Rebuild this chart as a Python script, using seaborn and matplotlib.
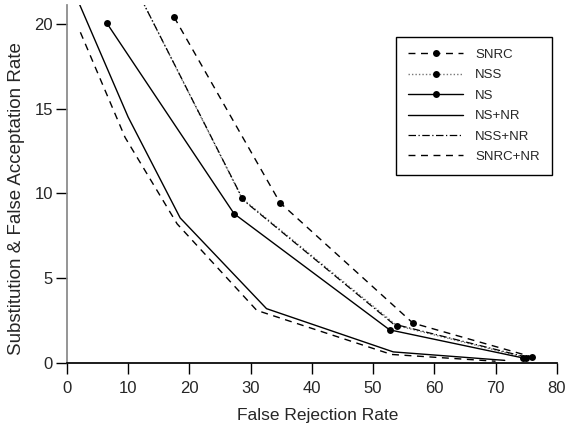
import matplotlib
matplotlib.use("Agg")
import matplotlib.pyplot as plt
import seaborn as sns
import pandas as pd

# curves (false rejection %, substitution & false acceptation %)
snrc_x = [17.5, 34.8, 56.5, 76.0]
snrc_y = [20.4, 9.45, 2.35, 0.35]
nss_x = [10.7, 28.6, 53.9, 75.0]
nss_y = [22.5, 9.7, 2.2, 0.3]
ns_x = [6.5, 27.3, 52.7, 74.4]
ns_y = [20.05, 8.8, 1.95, 0.3]
ns_nr_x = [2.0, 10.0, 18.5, 32.6, 53.3, 71.5]
ns_nr_y = [21.2, 14.5, 8.55, 3.2, 0.65, 0.15]
nss_nr_x = [10.7, 28.8, 53.3, 75.5]
nss_nr_y = [22.5, 9.6, 2.3, 0.3]
snrc_nr_x = [2.2, 9.5, 18.0, 31.0, 53.0, 70.0]
snrc_nr_y = [19.5, 13.3, 8.2, 3.1, 0.5, 0.1]

series = {
    "SNRC": (snrc_x, snrc_y),
    "NSS": (nss_x, nss_y),
    "NS": (ns_x, ns_y),
    "NS+NR": (ns_nr_x, ns_nr_y),
    "NSS+NR": (nss_nr_x, nss_nr_y),
    "SNRC+NR": (snrc_nr_x, snrc_nr_y),
}

styles = {
    "SNRC": dict(linestyle=(0, (5, 4)), marker="o", color="black", lw=1.0),
    "NSS": dict(linestyle=(0, (1, 1.5)), marker="o", color="#777777", lw=1.0),
    "NS": dict(linestyle="-", marker="o", color="black", lw=1.0),
    "NS+NR": dict(linestyle="-", marker=None, color="black", lw=1.0),
    "NSS+NR": dict(linestyle=(0, (6, 2, 1, 2)), marker=None, color="black", lw=0.9),
    "SNRC+NR": dict(linestyle=(0, (5, 4)), marker=None, color="black", lw=1.0),
}

sns.set_theme(style="ticks")
plt.rcParams['font.family'] = ['Liberation Sans', 'DejaVu Sans']

fig = plt.figure(figsize=(5.67, 4.3), dpi=100)
ax = fig.add_axes([0.118, 0.156, 0.864, 0.832])

for name, (xs, ys) in series.items():
    df = pd.DataFrame({"x": xs, "y": ys})
    st = styles[name]
    sns.lineplot(data=df, x="x", y="y", ax=ax, sort=False, label=name,
                 color=st["color"], linewidth=st["lw"], linestyle=st["linestyle"],
                 marker=st["marker"], markersize=5, markeredgewidth=0,
                 markerfacecolor="black")

ax.set_xlim(0, 80)
ax.set_ylim(0, 21.1)
ax.set_xticks(range(0, 81, 10))
ax.set_yticks(range(0, 21, 5))
ax.set_xlabel("False Rejection Rate", fontsize=12.5)
ax.set_ylabel("Substitution & False Acceptation Rate", fontsize=13.5)
ax.xaxis.set_label_coords(0.512, -0.125)
ax.yaxis.set_label_coords(-0.086, 0.46)
ax.tick_params(axis="both", labelsize=12, length=8, width=1, color="black")
ax.tick_params(axis="x", pad=5)
ax.tick_params(axis="y", pad=2)
sns.despine(ax=ax)
ax.spines["left"].set_color("#888888")
ax.spines["bottom"].set_color("black")

leg = ax.legend(loc="upper right", bbox_to_anchor=(1.003, 0.93), fontsize=9.5,
                frameon=True, fancybox=False, edgecolor="black", framealpha=1,
                handlelength=4.2, labelspacing=0.62, borderpad=0.9, handletextpad=0.9)
leg.get_frame().set_linewidth(1.0)

fig.savefig("out.png", dpi=100)
